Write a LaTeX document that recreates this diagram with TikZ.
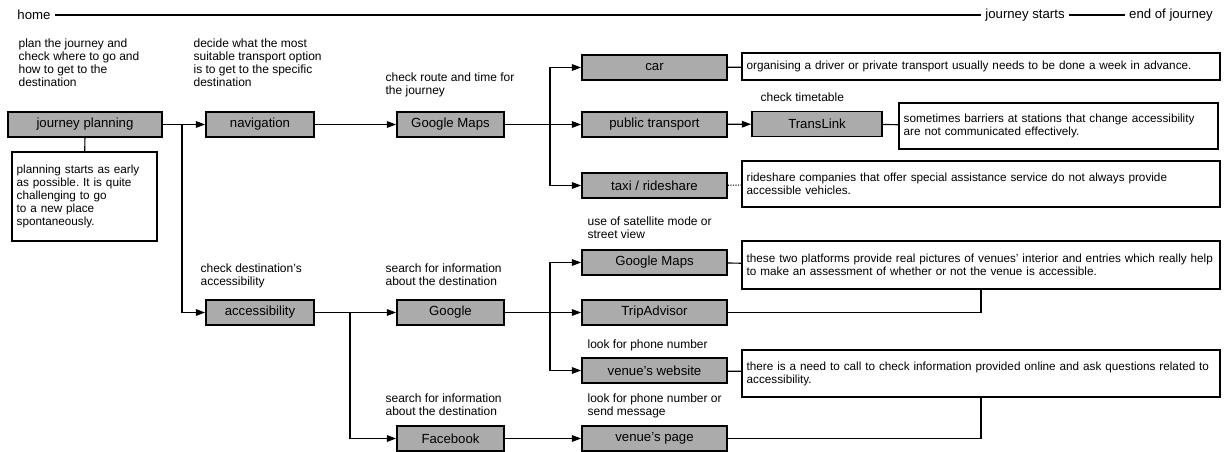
\documentclass[tikz,border=0pt]{standalone}
\usepackage{fontspec}
\setmainfont{Liberation Sans}
\usetikzlibrary{arrows.meta}
\definecolor{boxgray}{HTML}{ABABAB}
\begin{document}
\frenchspacing
\begin{tikzpicture}[x=0.75pt, y=-0.75pt, >={Triangle[length=7pt,width=5pt]}, line width=0.9pt,
    every node/.style = {font=\fontsize{9.9}{11}\selectfont},
    stage/.style = {draw, fill=boxgray, line width=1.3pt, minimum height=18.75pt, inner sep=0pt},
    note/.style = {draw, fill=white, line width=1pt, inner xsep=3.5pt, align=left, font=\fontsize{8.8}{9.75}\selectfont},
    hint/.style = {anchor=north west, inner sep=0pt, align=left, font=\fontsize{9}{9.75}\selectfont}]
    \useasboundingbox (0,0) rectangle (1228,452);

    % timeline
    \node[inner sep=3pt] (home) at (34,15) {home};
    \node[inner sep=3pt] (start) at (1025,15) {journey starts};
    \node[inner sep=3pt] (end) at (1171,15) {end of journey};
    \draw (home) -- (start);
    \draw (start) -- (end);

    % stages
    \node[stage, minimum width=115.5pt] (plan) at (85,124.5) {journey planning};
    \node[stage, minimum width=81pt] (nav) at (260,124.5) {navigation};
    \node[stage, minimum width=80.25pt] (maps) at (450.5,124.5) {Google Maps};
    \node[stage, minimum width=108.75pt] (car) at (654.5,67.5) {car};
    \node[stage, minimum width=108.75pt] (public) at (654.5,124.5) {public transport};
    \node[stage, minimum width=108.75pt] (taxi) at (654.5,185.5) {taxi / rideshare};
    \node[stage, minimum width=97.5pt] (translink) at (817,124) {TransLink};
    \node[stage, minimum width=81pt] (access) at (260,312.5) {accessibility};
    \node[stage, minimum width=80.25pt] (google) at (450.5,312.5) {Google};
    \node[stage, minimum width=80.25pt] (facebook) at (450.5,438.5) {Facebook};
    \node[stage, minimum width=108.75pt] (maps2) at (654.5,262.5) {Google Maps};
    \node[stage, minimum width=108.75pt] (tripadv) at (654.5,312.5) {TripAdvisor};
    \node[stage, minimum width=108.75pt] (website) at (654.5,370.5) {venue's website};
    \node[stage, minimum width=108.75pt] (page) at (654.5,438.5) {venue's page};

    % notes
    \node[note, text width=101.75pt, minimum height=66.75pt] (plannote) at (84.5,196.5)
        {planning starts as early\\as possible. It is quite\\challenging to go\\to a new place\\spontaneously.};
    \node[note, text width=351.5pt, minimum height=20.25pt] (carnote) at (981,66.5)
        {organising a driver or private transport usually needs to be done a week in advance.};
    \node[note, text width=232.25pt, minimum height=34.5pt] (tlnote) at (1058.5,126)
        {sometimes barriers at stations that change accessibility\\are not communicated effectively.};
    \node[note, text width=351.5pt, minimum height=34.5pt] (taxinote) at (981,184)
        {rideshare companies that offer special assistance service do not always provide\\accessible vehicles.};
    \node[note, text width=351.5pt, minimum height=36pt] (mapsnote) at (981,265)
        {these two platforms provide real pictures of venues' interior and entries which really help\\to make an assessment of whether or not the venue is accessible.};
    \node[note, text width=351.5pt, minimum height=35.25pt] (callnote) at (981,373.5)
        {there is a need to call to check information provided online and ask questions related to\\accessibility.};

    % hints above the stages
    \node[hint] (h1) at (18,38) {plan the journey and\\check where to go and\\how to get to the\\destination};
    \node[hint] (h2) at (193,38) {decide what the most\\suitable transport option\\is to get to the specific\\destination};
    \node[hint] (h3) at (385,72) {check route and time for\\the journey};
    \node[hint] (h4) at (760,92) {check timetable};
    \node[hint] (h5) at (587,216) {use of satellite mode or\\street view};
    \node[hint] (h6) at (200,263) {check destination's\\accessibility};
    \node[hint] (h7) at (385,263) {search for information\\about the destination};
    \node[hint] (h8) at (587,339) {look for phone number};
    \node[hint] (h9) at (385,393) {search for information\\about the destination};
    \node[hint] (h10) at (587,393) {look for phone number or\\send message};

    % branch points
    \coordinate (b1) at (182,124.5);
    \coordinate (b2) at (550,124.5);
    \coordinate (b3) at (350,312.5);
    \coordinate (b4) at (550,312.5);

    \draw (plan.east) -- (b1);
    \draw[->] (b1) -- (nav.west);
    \draw[->] (b1) |- (access.west);
    \draw (plan) -- (plannote);
    \draw[->] (nav) -- (maps);
    \draw (maps.east) -- (b2);
    \draw[->] (b2) |- (car.west);
    \draw[->] (b2) -- (public.west);
    \draw[->] (b2) |- (taxi.west);
    \draw (car) -- (carnote);
    \draw[->] (public) -- (translink);
    \draw (translink) -- (tlnote);
    \draw[densely dotted] (taxi) -- (taxinote);

    \draw (access.east) -- (b3);
    \draw[->] (b3) -- (google.west);
    \draw[->] (b3) |- (facebook.west);
    \draw (google.east) -- (b4);
    \draw[->] (b4) |- (maps2.west);
    \draw[->] (b4) -- (tripadv.west);
    \draw[->] (b4) |- (website.west);
    \draw[->] (facebook) -- (page);
    \draw (maps2) -- (mapsnote);
    \draw (tripadv.east) -| (mapsnote.south);
    \draw (website) -- (callnote);
    \draw (page.east) -| (callnote.south);
\end{tikzpicture}
\end{document}
